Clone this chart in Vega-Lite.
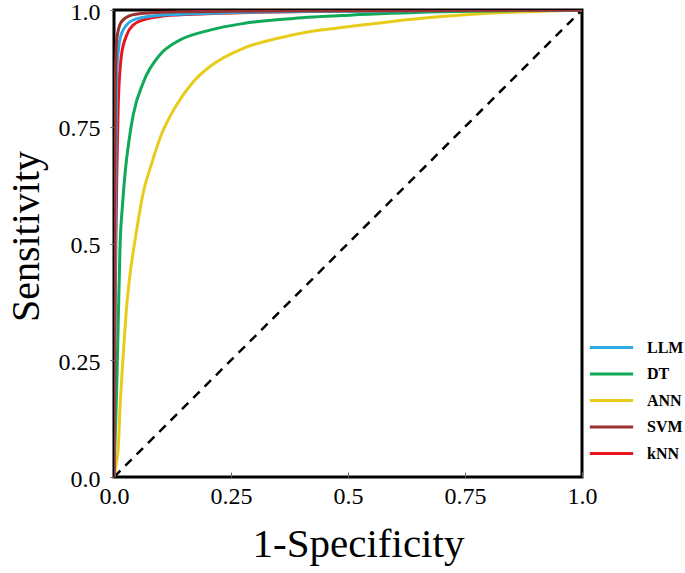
{
  "$schema": "https://vega.github.io/schema/vega-lite/v6.json",
  "autosize": "none",
  "padding": {"left": 114, "top": 10, "right": 103, "bottom": 96},
  "width": 468,
  "height": 467,
  "background": "white",
  "config": {
    "view": {"stroke": "black", "strokeWidth": 3},
    "font": "Liberation Serif"
  },
  "datasets": {
    "roc": [
      {"model": "ANN", "fpr": 0, "tpr": 0},
      {"model": "ANN", "fpr": 0.005, "tpr": 0.03},
      {"model": "ANN", "fpr": 0.009, "tpr": 0.06},
      {"model": "ANN", "fpr": 0.013, "tpr": 0.15},
      {"model": "ANN", "fpr": 0.02, "tpr": 0.265},
      {"model": "ANN", "fpr": 0.027, "tpr": 0.365},
      {"model": "ANN", "fpr": 0.035, "tpr": 0.44},
      {"model": "ANN", "fpr": 0.045, "tpr": 0.507},
      {"model": "ANN", "fpr": 0.063, "tpr": 0.611},
      {"model": "ANN", "fpr": 0.08, "tpr": 0.67},
      {"model": "ANN", "fpr": 0.098, "tpr": 0.725},
      {"model": "ANN", "fpr": 0.134, "tpr": 0.797},
      {"model": "ANN", "fpr": 0.169, "tpr": 0.846},
      {"model": "ANN", "fpr": 0.205, "tpr": 0.879},
      {"model": "ANN", "fpr": 0.276, "tpr": 0.918},
      {"model": "ANN", "fpr": 0.348, "tpr": 0.939},
      {"model": "ANN", "fpr": 0.42, "tpr": 0.954},
      {"model": "ANN", "fpr": 0.5, "tpr": 0.964},
      {"model": "ANN", "fpr": 0.59, "tpr": 0.975},
      {"model": "ANN", "fpr": 0.7, "tpr": 0.986},
      {"model": "ANN", "fpr": 0.8, "tpr": 0.993},
      {"model": "ANN", "fpr": 0.9, "tpr": 0.997},
      {"model": "ANN", "fpr": 1, "tpr": 1},
      {"model": "DT", "fpr": 0, "tpr": 0},
      {"model": "DT", "fpr": 0.003, "tpr": 0.1},
      {"model": "DT", "fpr": 0.006, "tpr": 0.2},
      {"model": "DT", "fpr": 0.009, "tpr": 0.33},
      {"model": "DT", "fpr": 0.013, "tpr": 0.497},
      {"model": "DT", "fpr": 0.018, "tpr": 0.58},
      {"model": "DT", "fpr": 0.024, "tpr": 0.654},
      {"model": "DT", "fpr": 0.032, "tpr": 0.72},
      {"model": "DT", "fpr": 0.041, "tpr": 0.775},
      {"model": "DT", "fpr": 0.063, "tpr": 0.846},
      {"model": "DT", "fpr": 0.098, "tpr": 0.904},
      {"model": "DT", "fpr": 0.134, "tpr": 0.932},
      {"model": "DT", "fpr": 0.205, "tpr": 0.957},
      {"model": "DT", "fpr": 0.276, "tpr": 0.971},
      {"model": "DT", "fpr": 0.383, "tpr": 0.982},
      {"model": "DT", "fpr": 0.504, "tpr": 0.989},
      {"model": "DT", "fpr": 0.7, "tpr": 0.996},
      {"model": "DT", "fpr": 1, "tpr": 1},
      {"model": "kNN", "fpr": 0, "tpr": 0},
      {"model": "kNN", "fpr": 0.002, "tpr": 0.3},
      {"model": "kNN", "fpr": 0.004, "tpr": 0.5},
      {"model": "kNN", "fpr": 0.006, "tpr": 0.65},
      {"model": "kNN", "fpr": 0.009, "tpr": 0.797},
      {"model": "kNN", "fpr": 0.016, "tpr": 0.904},
      {"model": "kNN", "fpr": 0.027, "tpr": 0.946},
      {"model": "kNN", "fpr": 0.041, "tpr": 0.968},
      {"model": "kNN", "fpr": 0.063, "tpr": 0.979},
      {"model": "kNN", "fpr": 0.098, "tpr": 0.986},
      {"model": "kNN", "fpr": 0.169, "tpr": 0.991},
      {"model": "kNN", "fpr": 0.3, "tpr": 0.995},
      {"model": "kNN", "fpr": 0.5, "tpr": 0.998},
      {"model": "kNN", "fpr": 1, "tpr": 1},
      {"model": "LLM", "fpr": 0, "tpr": 0},
      {"model": "LLM", "fpr": 0.002, "tpr": 0.4},
      {"model": "LLM", "fpr": 0.004, "tpr": 0.7},
      {"model": "LLM", "fpr": 0.006, "tpr": 0.868},
      {"model": "LLM", "fpr": 0.009, "tpr": 0.91},
      {"model": "LLM", "fpr": 0.013, "tpr": 0.939},
      {"model": "LLM", "fpr": 0.027, "tpr": 0.968},
      {"model": "LLM", "fpr": 0.048, "tpr": 0.981},
      {"model": "LLM", "fpr": 0.098, "tpr": 0.989},
      {"model": "LLM", "fpr": 0.205, "tpr": 0.993},
      {"model": "LLM", "fpr": 0.4, "tpr": 0.997},
      {"model": "LLM", "fpr": 1, "tpr": 1},
      {"model": "SVM", "fpr": 0, "tpr": 0},
      {"model": "SVM", "fpr": 0.001, "tpr": 0.5},
      {"model": "SVM", "fpr": 0.003, "tpr": 0.85},
      {"model": "SVM", "fpr": 0.006, "tpr": 0.939},
      {"model": "SVM", "fpr": 0.016, "tpr": 0.975},
      {"model": "SVM", "fpr": 0.034, "tpr": 0.988},
      {"model": "SVM", "fpr": 0.063, "tpr": 0.993},
      {"model": "SVM", "fpr": 0.134, "tpr": 0.996},
      {"model": "SVM", "fpr": 0.3, "tpr": 0.998},
      {"model": "SVM", "fpr": 1, "tpr": 1}
    ],
    "diag": [
      {"fpr": 0, "tpr": 0},
      {"fpr": 1, "tpr": 1}
    ]
  },
  "layer": [
    {
      "data": {"name": "diag"},
      "mark": {"type": "line", "color": "black", "strokeWidth": 2.5, "strokeDash": [9, 7]},
      "encoding": {
        "x": {"field": "fpr", "type": "quantitative"},
        "y": {"field": "tpr", "type": "quantitative"}
      }
    },
    {
      "data": {"name": "roc"},
      "mark": {"type": "line", "strokeWidth": 3, "interpolate": "monotone", "clip": true},
      "encoding": {
        "x": {
          "field": "fpr", "type": "quantitative",
          "scale": {"domain": [0, 1], "nice": false, "zero": false},
          "axis": {
            "title": "1-Specificity",
            "values": [0, 0.25, 0.5, 0.75, 1],
            "format": ".2~f",
            "labelExpr": "datum.value == 0 ? '0.0' : datum.value == 1 ? '1.0' : datum.label",
            "labelFlush": false,
            "domain": false, "grid": false,
            "tickSize": -5, "tickColor": "#666", "tickWidth": 1,
            "labelFont": "Liberation Serif", "labelFontSize": 24, "labelColor": "black",
            "labelPadding": 12,
            "titleFont": "Liberation Serif", "titleFontSize": 41, "titleFontWeight": "normal", "titleColor": "black",
            "titlePadding": 16,
            "titleX": 244
          }
        },
        "y": {
          "field": "tpr", "type": "quantitative",
          "scale": {"domain": [0, 1], "nice": false, "zero": false},
          "axis": {
            "title": "Sensitivity",
            "values": [0, 0.25, 0.5, 0.75, 1],
            "format": ".2~f",
            "labelExpr": "datum.value == 0 ? '0.0' : datum.value == 1 ? '1.0' : datum.label",
            "labelFlush": false,
            "labelOffset": 2,
            "domain": false, "grid": false,
            "tickSize": 4, "tickColor": "#666", "tickWidth": 1,
            "labelFont": "Liberation Serif", "labelFontSize": 24, "labelColor": "black",
            "labelPadding": 10,
            "titleFont": "Liberation Serif", "titleFontSize": 40, "titleFontWeight": "normal", "titleColor": "black",
            "titlePadding": 12,
            "titleY": 226
          }
        },
        "color": {
          "field": "model", "type": "nominal",
          "scale": {
            "domain": ["LLM", "DT", "ANN", "SVM", "kNN"],
            "range": ["#2AACE2", "#10A957", "#E8CC1C", "#9B3030", "#E8141E"]
          },
          "legend": {
            "title": null,
            "orient": "none",
            "legendX": 487,
            "legendY": 327,
            "symbolType": "M-2.5,0H2.5",
            "symbolSize": 300,
            "symbolStrokeWidth": 3,
            "labelFont": "Liberation Serif", "labelFontSize": 16, "labelFontWeight": "bold", "labelColor": "black",
            "labelOffset": 25,
            "rowPadding": 7.5
          }
        }
      }
    }
  ]
}
